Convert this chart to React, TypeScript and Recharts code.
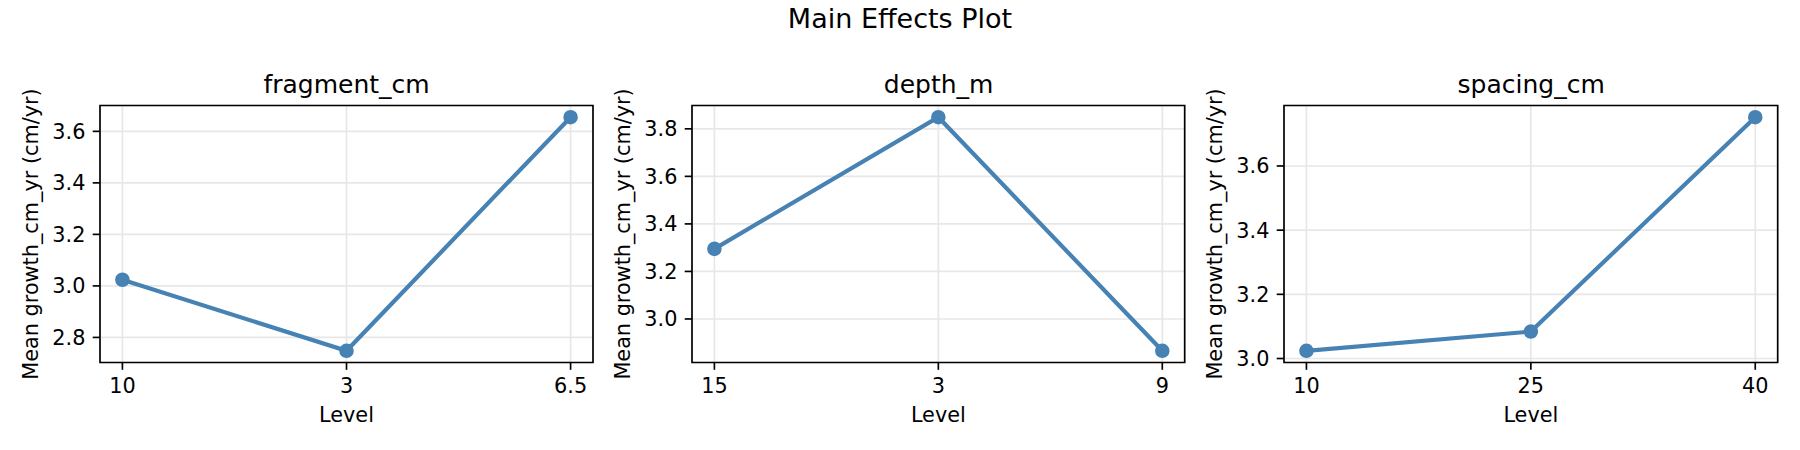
import React from 'react';
import {
  LineChart,
  Line,
  XAxis,
  YAxis,
  CartesianGrid,
  ReferenceArea,
} from 'recharts';

// ---- data ----
const fragmentLevels = ['10', '3', '6.5'];
const fragmentMeans = [3.024, 2.748, 3.655];
const fragmentTicks = [2.8, 3.0, 3.2, 3.4, 3.6];

const depthLevels = ['15', '3', '9'];
const depthMeans = [3.295, 3.849, 2.866];
const depthTicks = [3.0, 3.2, 3.4, 3.6, 3.8];

const spacingLevels = ['10', '25', '40'];
const spacingMeans = [3.024, 3.084, 3.752];
const spacingTicks = [3.0, 3.2, 3.4, 3.6];

const factorNames = ['fragment_cm', 'depth_m', 'spacing_cm'];
const suptitle = 'Main Effects Plot';
const yLabel = 'Mean growth_cm_yr (cm/yr)';
const xLabel = 'Level';

// ---- styles / layout ----
const FONT = '"DejaVu Sans", Verdana, sans-serif';
const BLUE = '#4682B4';
const GRID = '#e7e7e7';
const INK = '#000000';
const LW = 1.67;

const PLOT_TOP = 105.5;
const PLOT_H = 257;
const CHART_H = 450;
const YAXIS_W = 100;
const XAXIS_H = 60;
const RIGHT_PAD = 7;

const panelLeft = [100, 692.3, 1284.3];
const panelRight = [593, 1185, 1778];

interface PanelProps {
  levels: string[];
  means: number[];
  ticks: number[];
  left: number;
  right: number;
}

function Panel({ levels, means, ticks, left, right }: PanelProps) {
  const data = levels.map((lv, i) => ({ x: i, level: lv, y: means[i] }));
  const lo = Math.min(...means);
  const hi = Math.max(...means);
  const pad = (hi - lo) * 0.05;
  const yDom: [number, number] = [lo - pad, hi + pad];
  const n = levels.length - 1;
  const xDom: [number, number] = [-0.05 * n, n + 0.05 * n];
  const xTicks = levels.map((_, i) => i);
  const plotW = right - left;
  const width = YAXIS_W + plotW + RIGHT_PAD;
  const bottom = CHART_H - PLOT_TOP - PLOT_H - XAXIS_H;

  const tickStyle = { fill: INK, fontSize: 20.8, fontFamily: FONT };

  return (
    <div style={{ position: 'absolute', left: left - YAXIS_W, top: 0 }}>
      <LineChart
        width={width}
        height={CHART_H}
        data={data}
        margin={{ top: PLOT_TOP, right: RIGHT_PAD, bottom, left: 0 }}
      >
        <CartesianGrid stroke={GRID} strokeWidth={LW} />
        <XAxis
          dataKey="x"
          type="number"
          domain={xDom}
          ticks={xTicks}
          allowDataOverflow
          tickFormatter={(v: number) => levels[v] ?? ''}
          height={XAXIS_H}
          axisLine={false}
          tickLine={{ stroke: INK, strokeWidth: LW }}
          tickSize={7.3}
          tickMargin={8}
          tick={tickStyle}
          interval={0}
          label={{
            value: xLabel,
            position: 'insideBottom',
            offset: 0.5,
            fill: INK,
            fontSize: 20.8,
            fontFamily: FONT,
          }}
        />
        <YAxis
          type="number"
          domain={yDom}
          ticks={ticks}
          allowDataOverflow
          tickFormatter={(v: number) => v.toFixed(1)}
          width={YAXIS_W}
          axisLine={false}
          tickLine={{ stroke: INK, strokeWidth: LW }}
          tickSize={7.3}
          tickMargin={7.3}
          tick={tickStyle}
          interval={0}
          label={(props: any) => {
            const vb = props.viewBox || { x: 0, y: PLOT_TOP, width: YAXIS_W, height: PLOT_H };
            const cx = vb.x + 31;
            const cy = vb.y + vb.height / 2;
            return (
              <text
                x={cx}
                y={cy}
                transform={`rotate(-90 ${cx} ${cy})`}
                textAnchor="middle"
                dominantBaseline="central"
                fill={INK}
                fontSize={20.8}
                fontFamily={FONT}
              >
                {yLabel}
              </text>
            );
          }}
        />
        <ReferenceArea
          x1={xDom[0]}
          x2={xDom[1]}
          y1={yDom[0]}
          y2={yDom[1]}
          fill="none"
          fillOpacity={0}
          stroke={INK}
          strokeWidth={LW}
          ifOverflow="visible"
        />
        <Line
          dataKey="y"
          stroke={BLUE}
          strokeWidth={4.17}
          dot={{ r: 6.25, fill: BLUE, stroke: BLUE, strokeWidth: 2.08 }}
          activeDot={false}
          isAnimationActive={false}
        />
      </LineChart>
    </div>
  );
}

export default function App() {
  const panels = [
    { levels: fragmentLevels, means: fragmentMeans, ticks: fragmentTicks },
    { levels: depthLevels, means: depthMeans, ticks: depthTicks },
    { levels: spacingLevels, means: spacingMeans, ticks: spacingTicks },
  ];
  return (
    <div
      style={{
        position: 'absolute',
        left: 0,
        top: 0,
        width: 1800,
        height: 450,
        background: '#ffffff',
        overflow: 'hidden',
      }}
    >
      <svg
        width={1800}
        height={450}
        style={{ position: 'absolute', left: 0, top: 0 }}
      >
        <text
          x={900}
          y={28}
          textAnchor="middle"
          fontSize={27}
          fontFamily={FONT}
          fill={INK}
        >
          {suptitle}
        </text>
        {factorNames.map((name, i) => (
          <text
            key={name}
            x={(panelLeft[i] + panelRight[i]) / 2}
            y={93}
            textAnchor="middle"
            fontSize={25}
            fontFamily={FONT}
            fill={INK}
          >
            {name}
          </text>
        ))}
      </svg>
      {panels.map((p, i) => (
        <Panel
          key={i}
          levels={p.levels}
          means={p.means}
          ticks={p.ticks}
          left={panelLeft[i]}
          right={panelRight[i]}
        />
      ))}
    </div>
  );
}
